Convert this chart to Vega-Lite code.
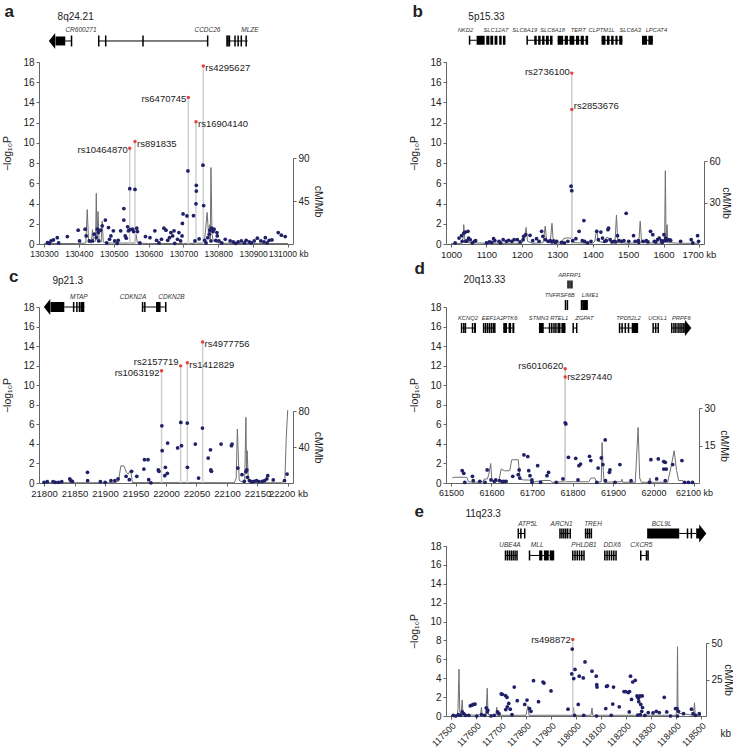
{
"$schema": "https://vega.github.io/schema/vega-lite/v6.json",
"padding": {"left": 2, "top": 3, "right": 0, "bottom": 0},
"background": "white",
"config": {
 "view": {"stroke": null},
 "font": "Liberation Sans",
 "axis": {"grid": false, "labelColor": "#222", "titleColor": "#222", "domainColor": "#666", "tickColor": "#666", "tickSize": 3, "labelFontSize": 10, "titleFontSize": 10.5, "titleFontWeight": "normal", "labelPadding": 2},
 "text": {"color": "#222"}
},
"columns": 2,
"spacing": {"row": 63, "column": 153},
"bounds": "flush",
"datasets": {
"a_pts": [{"pos":130310,"p":0.13},{"pos":130315,"p":0.05},{"pos":130320,"p":0.3},{"pos":130327,"p":0.4},{"pos":130338,"p":0.63},{"pos":130342,"p":0.1},{"pos":130367,"p":0.73},{"pos":130398,"p":1.37},{"pos":130402,"p":0.3},{"pos":130418,"p":1.47},{"pos":130421,"p":0.8},{"pos":130430,"p":0.3},{"pos":130439,"p":0.3},{"pos":130444,"p":0.97},{"pos":130450,"p":0.63},{"pos":130453,"p":1.47},{"pos":130456,"p":1.13},{"pos":130457,"p":0.3},{"pos":130462,"p":1.37},{"pos":130467,"p":1.8},{"pos":130476,"p":2.37},{"pos":130480,"p":0.1},{"pos":130485,"p":1.63},{"pos":130488,"p":0.47},{"pos":130492,"p":0.8},{"pos":130499,"p":1.3},{"pos":130503,"p":0.3},{"pos":130510,"p":0.05},{"pos":130513,"p":0.37},{"pos":130520,"p":1.3},{"pos":130529,"p":3.5},{"pos":130529,"p":2.37},{"pos":130533,"p":0.8},{"pos":130536,"p":0.57},{"pos":130540,"p":1.7},{"pos":130542,"p":1.3},{"pos":130547,"p":1.43},{"pos":130546,"p":5.47},{"pos":130554,"p":1.47},{"pos":130557,"p":1.23},{"pos":130561,"p":5.4},{"pos":130566,"p":1.57},{"pos":130568,"p":1.23},{"pos":130575,"p":0.1},{"pos":130591,"p":0.73},{"pos":130604,"p":0.63},{"pos":130618,"p":1.3},{"pos":130623,"p":0.37},{"pos":130630,"p":0.1},{"pos":130637,"p":0.47},{"pos":130644,"p":1.57},{"pos":130650,"p":1.37},{"pos":130655,"p":0.37},{"pos":130660,"p":0.63},{"pos":130664,"p":1.13},{"pos":130669,"p":0.8},{"pos":130673,"p":1.3},{"pos":130675,"p":0.05},{"pos":130683,"p":0.47},{"pos":130687,"p":1.13},{"pos":130692,"p":0.3},{"pos":130696,"p":0.8},{"pos":130697,"p":2.03},{"pos":130699,"p":2.97},{"pos":130710,"p":2.77},{"pos":130713,"p":7.23},{"pos":130729,"p":2.8},{"pos":130733,"p":0.3},{"pos":130736,"p":3.97},{"pos":130737,"p":5.8},{"pos":130737,"p":5.23},{"pos":130745,"p":0.5},{"pos":130756,"p":7.8},{"pos":130758,"p":3.8},{"pos":130761,"p":0.37},{"pos":130765,"p":0.1},{"pos":130770,"p":0.63},{"pos":130774,"p":0.97},{"pos":130776,"p":1.37},{"pos":130779,"p":0.3},{"pos":130781,"p":1.57},{"pos":130785,"p":1.23},{"pos":130788,"p":1.47},{"pos":130793,"p":0.37},{"pos":130796,"p":1.13},{"pos":130797,"p":0.8},{"pos":130802,"p":0.3},{"pos":130810,"p":0.1},{"pos":130820,"p":0.47},{"pos":130834,"p":0.3},{"pos":130843,"p":0.2},{"pos":130850,"p":0.05},{"pos":130857,"p":0.2},{"pos":130866,"p":0.3},{"pos":130875,"p":0.1},{"pos":130880,"p":0.37},{"pos":130889,"p":0.2},{"pos":130895,"p":0.1},{"pos":130903,"p":0.3},{"pos":130912,"p":0.57},{"pos":130922,"p":0.3},{"pos":130931,"p":0.2},{"pos":130935,"p":0.63},{"pos":130940,"p":0.1},{"pos":130946,"p":0.37},{"pos":130954,"p":0.4},{"pos":130972,"p":1.13},{"pos":130981,"p":0.87},{"pos":130992,"p":0.73}],
"a_top": [{"pos":130546,"p":9.47,"snp":"rs10464870"},{"pos":130561,"p":10.13,"snp":"rs891835"},{"pos":130714,"p":14.5,"snp":"rs6470745"},{"pos":130736,"p":12.1,"snp":"rs16904140"},{"pos":130757,"p":17.6,"snp":"rs4295627"}],
"a_rec": [{"pos":130300,"rate":0.5},{"pos":130400,"rate":0.5},{"pos":130420,"rate":1},{"pos":130424,"rate":36},{"pos":130428,"rate":2},{"pos":130436,"rate":1},{"pos":130439,"rate":15},{"pos":130442,"rate":2},{"pos":130448,"rate":3},{"pos":130450,"rate":53},{"pos":130452,"rate":5},{"pos":130455,"rate":34},{"pos":130458,"rate":4},{"pos":130464,"rate":2},{"pos":130467,"rate":24},{"pos":130470,"rate":2},{"pos":130480,"rate":1},{"pos":130500,"rate":1},{"pos":130560,"rate":1},{"pos":130564,"rate":10},{"pos":130568,"rate":1},{"pos":130600,"rate":0.5},{"pos":130700,"rate":0.5},{"pos":130760,"rate":1},{"pos":130768,"rate":33},{"pos":130772,"rate":10},{"pos":130775,"rate":20},{"pos":130777,"rate":5},{"pos":130779,"rate":80},{"pos":130782,"rate":10},{"pos":130786,"rate":3},{"pos":130800,"rate":1},{"pos":130850,"rate":0.5},{"pos":131000,"rate":0.5}],
"a_gene": [{"k":"arr","pos":130323},{"k":"blk","pos":130333,"end":130361},{"k":"int","pos":130361,"end":130379},{"k":"bar","pos":130379},{"k":"int","pos":130457,"end":130769.5},{"k":"bar","pos":130457},{"k":"bar","pos":130477},{"k":"bar","pos":130584},{"k":"bar","pos":130769.5},{"k":"int","pos":130825,"end":130884},{"k":"bar","pos":130825},{"k":"bar","pos":130828},{"k":"bar","pos":130832},{"k":"bar","pos":130848},{"k":"bar","pos":130857},{"k":"bar","pos":130866},{"k":"bar","pos":130880},{"k":"lab","pos":130406,"n":"CR600271"},{"k":"lab","pos":130769,"n":"CCDC26"},{"k":"lab","pos":130891,"n":"MLZE"}],
"a_tag": [{"pos":130187,"lbl":"a"},{"pos":130339,"lbl":"8q24.21"}],
"b_pts": [{"pos":1011.7,"p":0.1},{"pos":1022.6,"p":0.59},{"pos":1029.8,"p":0.82},{"pos":1036.1,"p":1.08},{"pos":1040.6,"p":1.18},{"pos":1045.2,"p":0.33},{"pos":1047.9,"p":1.25},{"pos":1049.7,"p":0.59},{"pos":1054.2,"p":0.43},{"pos":1041.5,"p":0.27},{"pos":1031.6,"p":0.27},{"pos":1060,"p":0.1},{"pos":1066,"p":0.27},{"pos":1069.6,"p":0.33},{"pos":1100,"p":0.1},{"pos":1108.4,"p":0.2},{"pos":1115,"p":0.15},{"pos":1120.2,"p":0.53},{"pos":1123.8,"p":0.33},{"pos":1135.6,"p":0.27},{"pos":1140,"p":0.1},{"pos":1147.3,"p":0.43},{"pos":1156.4,"p":0.27},{"pos":1162.7,"p":0.36},{"pos":1171.7,"p":0.27},{"pos":1178,"p":0.43},{"pos":1187.1,"p":0.43},{"pos":1195,"p":0.2},{"pos":1203.4,"p":0.43},{"pos":1205.2,"p":0.76},{"pos":1210.6,"p":0.92},{"pos":1223.2,"p":0.86},{"pos":1230.5,"p":0.33},{"pos":1241.3,"p":0.53},{"pos":1248.6,"p":0.27},{"pos":1255.8,"p":1.25},{"pos":1259.4,"p":0.76},{"pos":1266.6,"p":0.43},{"pos":1273.9,"p":0.27},{"pos":1280.2,"p":0.33},{"pos":1284.7,"p":0.2},{"pos":1290,"p":0.3},{"pos":1293.8,"p":0.17},{"pos":1298.3,"p":0.27},{"pos":1311.8,"p":0.17},{"pos":1320,"p":0.1},{"pos":1329.9,"p":0.27},{"pos":1339,"p":5.72},{"pos":1340.8,"p":5.27},{"pos":1343.5,"p":0.33},{"pos":1352.5,"p":0.53},{"pos":1361.6,"p":1.25},{"pos":1370.6,"p":0.33},{"pos":1375.1,"p":2.32},{"pos":1377,"p":0.27},{"pos":1385,"p":0.1},{"pos":1395,"p":0.27},{"pos":1411.3,"p":1.25},{"pos":1415.8,"p":0.43},{"pos":1423,"p":1.18},{"pos":1427.6,"p":0.59},{"pos":1433.9,"p":0.27},{"pos":1438.4,"p":0.33},{"pos":1443,"p":1.41},{"pos":1444.7,"p":1.57},{"pos":1449.2,"p":0.43},{"pos":1454.7,"p":0.2},{"pos":1461,"p":0.27},{"pos":1465,"p":0.2},{"pos":1470,"p":0.82},{"pos":1474.6,"p":0.33},{"pos":1481.8,"p":0.27},{"pos":1488.1,"p":0.33},{"pos":1494.4,"p":3.04},{"pos":1501.7,"p":0.27},{"pos":1515.2,"p":0.82},{"pos":1519.8,"p":0.27},{"pos":1528.8,"p":0.33},{"pos":1530,"p":0.15},{"pos":1542.4,"p":0.27},{"pos":1551.4,"p":0.33},{"pos":1556,"p":0.2},{"pos":1563.2,"p":1.25},{"pos":1569.5,"p":0.92},{"pos":1574,"p":0.27},{"pos":1578,"p":0.2},{"pos":1583,"p":0.43},{"pos":1587.6,"p":0.59},{"pos":1593.9,"p":0.33},{"pos":1596,"p":0.15},{"pos":1601.1,"p":0.92},{"pos":1602.9,"p":0.33},{"pos":1605.6,"p":0.59},{"pos":1608.4,"p":0.33},{"pos":1612,"p":0.43},{"pos":1617.4,"p":0.4},{"pos":1620,"p":0.35},{"pos":1648.1,"p":0.27},{"pos":1678,"p":0.43},{"pos":1682.5,"p":0.1},{"pos":1696,"p":0.82},{"pos":1698.8,"p":0.27}],
"b_top": [{"pos":1341,"p":16.9,"snp":"rs2736100"},{"pos":1341,"p":13.3,"snp":"rs2853676"}],
"b_rec": [{"pos":1000,"rate":0.3},{"pos":1030,"rate":0.5},{"pos":1034,"rate":4},{"pos":1036,"rate":14},{"pos":1039,"rate":3},{"pos":1045,"rate":1},{"pos":1100,"rate":0.5},{"pos":1200,"rate":0.5},{"pos":1208,"rate":4},{"pos":1212,"rate":12},{"pos":1216,"rate":2},{"pos":1230,"rate":0.5},{"pos":1260,"rate":1},{"pos":1266,"rate":13},{"pos":1270,"rate":2},{"pos":1280,"rate":1},{"pos":1285,"rate":15},{"pos":1289,"rate":1},{"pos":1300,"rate":0.5},{"pos":1312,"rate":1},{"pos":1318,"rate":4},{"pos":1330,"rate":4.5},{"pos":1340,"rate":4},{"pos":1346,"rate":1},{"pos":1400,"rate":0.5},{"pos":1406,"rate":2},{"pos":1411,"rate":10.4},{"pos":1416,"rate":2},{"pos":1430,"rate":1},{"pos":1440,"rate":5},{"pos":1446,"rate":4},{"pos":1450,"rate":1},{"pos":1463,"rate":1},{"pos":1467,"rate":21},{"pos":1471,"rate":1},{"pos":1500,"rate":0.5},{"pos":1530,"rate":1},{"pos":1534,"rate":16.5},{"pos":1538,"rate":1},{"pos":1600,"rate":0.5},{"pos":1603,"rate":3},{"pos":1605,"rate":53},{"pos":1607,"rate":5},{"pos":1610,"rate":14},{"pos":1612,"rate":1},{"pos":1650,"rate":0.5},{"pos":1700,"rate":0.5}],
"b_gene": [{"k":"int","pos":1052.4,"end":1072.3},{"k":"int","pos":1215,"end":1286.6},{"k":"int","pos":1301,"end":1387},{"k":"int","pos":1425,"end":1483.8},{"k":"int","pos":1539,"end":1569.7},{"k":"bar","pos":1052.4},{"k":"bar","pos":1215},{"k":"blk","pos":1072.3,"end":1095},{"k":"blk","pos":1099.5,"end":1108.5},{"k":"blk","pos":1111,"end":1119},{"k":"blk","pos":1123,"end":1131},{"k":"blk","pos":1136,"end":1143},{"k":"blk","pos":1146.5,"end":1153.7},{"k":"blk","pos":1235,"end":1242},{"k":"blk","pos":1246,"end":1253},{"k":"blk","pos":1257,"end":1264},{"k":"blk","pos":1268,"end":1276},{"k":"blk","pos":1279.4,"end":1286.6},{"k":"blk","pos":1301,"end":1316.5},{"k":"blk","pos":1321,"end":1330},{"k":"blk","pos":1334.6,"end":1348},{"k":"blk","pos":1352.7,"end":1361.7},{"k":"blk","pos":1366,"end":1375},{"k":"blk","pos":1379.8,"end":1387},{"k":"blk","pos":1425,"end":1436},{"k":"blk","pos":1440,"end":1447.6},{"k":"blk","pos":1452,"end":1459},{"k":"blk","pos":1464,"end":1470},{"k":"blk","pos":1474.7,"end":1483.8},{"k":"blk","pos":1539,"end":1553.4},{"k":"blk","pos":1557,"end":1569.7},{"k":"lab","pos":1040.7,"n":"NKD2"},{"k":"lab","pos":1126.6,"n":"SLC12A7"},{"k":"lab","pos":1208,"n":"SLC6A19"},{"k":"lab","pos":1286.6,"n":"SLC6A18"},{"k":"lab","pos":1359,"n":"TERT"},{"k":"lab","pos":1425,"n":"CLPTM1L"},{"k":"lab","pos":1506,"n":"SLC6A3"},{"k":"lab","pos":1579.7,"n":"LPCAT4"}],
"b_tag": [{"pos":891,"lbl":"b"},{"pos":1049,"lbl":"5p15.33"}],
"c_pts": [{"pos":21800.1,"p":0.07},{"pos":21805.4,"p":0.14},{"pos":21814.9,"p":0.14},{"pos":21818.5,"p":0.07},{"pos":21823.8,"p":0.07},{"pos":21829.1,"p":0.14},{"pos":21842.3,"p":0.41},{"pos":21843.9,"p":0.24},{"pos":21846.5,"p":0.17},{"pos":21871.3,"p":1.09},{"pos":21871.5,"p":0.24},{"pos":21892.4,"p":0.14},{"pos":21900.3,"p":0.07},{"pos":21909.8,"p":0.24},{"pos":21916.2,"p":0.24},{"pos":21921.4,"p":0.41},{"pos":21934.6,"p":0.68},{"pos":21939.9,"p":0.34},{"pos":21943.6,"p":1.19},{"pos":21952.1,"p":0.68},{"pos":21963.7,"p":1.43},{"pos":21964.7,"p":2.38},{"pos":21970.5,"p":2.38},{"pos":21971.6,"p":0.34},{"pos":21975.3,"p":0.02},{"pos":21987.4,"p":1.33},{"pos":21988.5,"p":1.19},{"pos":21993.2,"p":5.85},{"pos":21993.7,"p":3.3},{"pos":21998,"p":0.75},{"pos":21999,"p":1.6},{"pos":22002.2,"p":0.99},{"pos":22002.7,"p":4.09},{"pos":22019.1,"p":3.58},{"pos":22024.3,"p":6.2},{"pos":22025.4,"p":3.82},{"pos":22034.9,"p":6.13},{"pos":22035.1,"p":1.6},{"pos":22048.1,"p":3.98},{"pos":22053.4,"p":0.51},{"pos":22059.7,"p":5.62},{"pos":22069.2,"p":2.55},{"pos":22072.9,"p":3.4},{"pos":22074.5,"p":1.19},{"pos":22073.5,"p":1.33},{"pos":22090.3,"p":3.98},{"pos":22107.2,"p":3.82},{"pos":22108.3,"p":3.98},{"pos":22117.8,"p":1.53},{"pos":22124.6,"p":0.85},{"pos":22128.3,"p":0.17},{"pos":22131,"p":1.16},{"pos":22132.5,"p":1.33},{"pos":22133.6,"p":0.58},{"pos":22136.8,"p":0.24},{"pos":22140.4,"p":0.14},{"pos":22144.1,"p":0.17},{"pos":22148.4,"p":0.24},{"pos":22152.6,"p":0.14},{"pos":22157.9,"p":0.17},{"pos":22161.6,"p":0.24},{"pos":22165.3,"p":0.41},{"pos":22166.8,"p":0.75},{"pos":22175.8,"p":0.31},{"pos":22194.3,"p":0.24},{"pos":22198.5,"p":0.92}],
"c_top": [{"pos":21992.7,"p":11.47,"snp":"rs1063192"},{"pos":22024,"p":11.98,"snp":"rs2157719"},{"pos":22035,"p":12.3,"snp":"rs1412829"},{"pos":22060,"p":14.43,"snp":"rs4977756"}],
"c_rec": [{"pos":21800,"rate":0.3},{"pos":21915,"rate":0.3},{"pos":21922,"rate":2},{"pos":21926,"rate":19},{"pos":21931,"rate":19},{"pos":21935,"rate":12},{"pos":21938,"rate":10},{"pos":21942,"rate":14},{"pos":21945,"rate":0.5},{"pos":22112,"rate":0.3},{"pos":22115,"rate":5},{"pos":22117,"rate":60},{"pos":22120,"rate":3},{"pos":22125,"rate":1},{"pos":22129,"rate":2},{"pos":22131,"rate":73},{"pos":22132,"rate":10},{"pos":22133,"rate":36},{"pos":22135,"rate":2},{"pos":22140,"rate":0.3},{"pos":22190,"rate":0.3},{"pos":22195,"rate":5},{"pos":22197,"rate":48},{"pos":22199.5,"rate":81}],
"c_gene": [{"k":"arr","pos":21805},{"k":"blk","pos":21810.7,"end":21833.3},{"k":"int","pos":21833.3,"end":21866},{"k":"bar","pos":21848.6},{"k":"bar","pos":21853.9},{"k":"bar","pos":21858.1},{"k":"blk","pos":21859.7,"end":21866.1},{"k":"int","pos":21961.6,"end":21999.6},{"k":"bar","pos":21961.6},{"k":"bar","pos":21965.3},{"k":"blk","pos":21983.7,"end":21991.1},{"k":"bar","pos":21999.6},{"k":"lab","pos":21857,"n":"MTAP"},{"k":"lab","pos":21946,"n":"CDKN2A"},{"k":"lab","pos":22009,"n":"CDKN2B"}],
"c_tag": [{"pos":21742.5,"lbl":"c"},{"pos":21813.8,"lbl":"9p21.3"}],
"d_pts": [{"pos":61527.7,"p":1.26},{"pos":61531.6,"p":0.99},{"pos":61534,"p":0.07},{"pos":61552.9,"p":0.68},{"pos":61555,"p":0.24},{"pos":61571.1,"p":0.17},{"pos":61584,"p":0.07},{"pos":61589.3,"p":1.33},{"pos":61598.8,"p":0.31},{"pos":61607,"p":0.17},{"pos":61610.6,"p":0.31},{"pos":61620,"p":0.24},{"pos":61626.4,"p":0.13},{"pos":61630.3,"p":0.17},{"pos":61636,"p":0.17},{"pos":61652.5,"p":0.68},{"pos":61665.9,"p":0.85},{"pos":61668.3,"p":1.33},{"pos":61669.8,"p":0.51},{"pos":61680.1,"p":2.87},{"pos":61689.6,"p":2.7},{"pos":61691.9,"p":1.26},{"pos":61695.1,"p":0.75},{"pos":61699.8,"p":0.31},{"pos":61700,"p":0.07},{"pos":61714,"p":1.77},{"pos":61721.2,"p":0.07},{"pos":61737,"p":0.75},{"pos":61740.9,"p":1.09},{"pos":61760,"p":0.07},{"pos":61776.4,"p":0.41},{"pos":61782,"p":6.15},{"pos":61783.6,"p":6.04},{"pos":61789.9,"p":2.63},{"pos":61808,"p":2.53},{"pos":61813.6,"p":0.31},{"pos":61815.9,"p":1.77},{"pos":61819.9,"p":1.94},{"pos":61842,"p":2.73},{"pos":61845.2,"p":2.29},{"pos":61860,"p":0.07},{"pos":61863.3,"p":1.53},{"pos":61871.2,"p":2.56},{"pos":61875.1,"p":1.88},{"pos":61880.7,"p":4.4},{"pos":61881.5,"p":0.24},{"pos":61891,"p":1.09},{"pos":61892.5,"p":1.33},{"pos":61905,"p":0.07},{"pos":61917,"p":1.88},{"pos":61944.6,"p":0.24},{"pos":61990,"p":0.07},{"pos":61993.6,"p":2.39},{"pos":62007.8,"p":0.41},{"pos":62011.8,"p":2.46},{"pos":62025.2,"p":2.19},{"pos":62029.1,"p":2.12},{"pos":62025.4,"p":1.43},{"pos":62031.5,"p":1.43},{"pos":62029,"p":0.24},{"pos":62047.3,"p":1.88},{"pos":62070.2,"p":2.29},{"pos":62076.5,"p":0.07},{"pos":62086,"p":0.07},{"pos":62096.3,"p":0.07}],
"d_top": [{"pos":61782,"p":11.68,"snp":"rs6010620"},{"pos":61782,"p":10.83,"snp":"rs2297440"}],
"d_rec": [{"pos":61503,"rate":2.0},{"pos":61508,"rate":2.3},{"pos":61539,"rate":2.3},{"pos":61543,"rate":0.5},{"pos":61560,"rate":0.3},{"pos":61579,"rate":0.5},{"pos":61582,"rate":1.6},{"pos":61590,"rate":1.6},{"pos":61594,"rate":4},{"pos":61598,"rate":7.8},{"pos":61601,"rate":1},{"pos":61605,"rate":0.5},{"pos":61618,"rate":0.8},{"pos":61624,"rate":5.6},{"pos":61632,"rate":4.9},{"pos":61645,"rate":4.9},{"pos":61650,"rate":9.3},{"pos":61666,"rate":9.3},{"pos":61671,"rate":1.5},{"pos":61680,"rate":1.2},{"pos":61693,"rate":1.2},{"pos":61700,"rate":0.3},{"pos":61725,"rate":1},{"pos":61745,"rate":1},{"pos":61750,"rate":0.3},{"pos":61780,"rate":0.5},{"pos":61840,"rate":0.5},{"pos":61846,"rate":2},{"pos":61855,"rate":2},{"pos":61860,"rate":0.3},{"pos":61871,"rate":0.5},{"pos":61873,"rate":16.2},{"pos":61876,"rate":5},{"pos":61878,"rate":0.3},{"pos":61920,"rate":0.5},{"pos":61922,"rate":1.5},{"pos":61924,"rate":0.3},{"pos":61955,"rate":0.3},{"pos":61962,"rate":22.2},{"pos":61966,"rate":2},{"pos":61970,"rate":0.3},{"pos":61988,"rate":0.3},{"pos":61991,"rate":2},{"pos":61994,"rate":0.3},{"pos":62035,"rate":0.3},{"pos":62044,"rate":7},{"pos":62051,"rate":12.9},{"pos":62057,"rate":5},{"pos":62062,"rate":1},{"pos":62072,"rate":1},{"pos":62075,"rate":0.3},{"pos":62100,"rate":0.3}],
"d_gene": [{"k":"int","t":3,"pos":61526,"end":61562},{"k":"int","t":3,"pos":61580.6,"end":61608.2},{"k":"int","t":3,"pos":61629,"end":61656.4},{"k":"int","t":3,"pos":61717.2,"end":61782.7},{"k":"int","t":3,"pos":61801.7,"end":61810.4},{"k":"int","t":3,"pos":61916.2,"end":61962},{"k":"int","t":3,"pos":61999.1,"end":62011.7},{"k":"int","t":3,"pos":62045,"end":62082.8},
{"k":"bar","t":3,"pos":61526.1},{"k":"bar","t":3,"pos":61531.6},{"k":"bar","t":3,"pos":61535.6},{"k":"bar","t":3,"pos":61580.6},{"k":"bar","t":3,"pos":61585.3},{"k":"bar","t":3,"pos":61590.1},{"k":"bar","t":3,"pos":61594.8},{"k":"bar","t":3,"pos":61599.5},{"k":"bar","t":3,"pos":61604.3},{"k":"bar","t":3,"pos":61608.2},{"k":"bar","t":3,"pos":61743.3},{"k":"bar","t":3,"pos":61748.8},{"k":"bar","t":3,"pos":61754.3},{"k":"bar","t":3,"pos":61759},{"k":"bar","t":3,"pos":61764.6},{"k":"bar","t":3,"pos":61768.5},{"k":"bar","t":3,"pos":61801.7},{"k":"bar","t":3,"pos":61810.4},{"k":"bar","t":3,"pos":61916.2},{"k":"bar","t":3,"pos":61922.5},{"k":"bar","t":3,"pos":61930.4},{"k":"bar","t":3,"pos":61938.3},{"k":"bar","t":3,"pos":61999.1},{"k":"bar","t":3,"pos":62005.4},{"k":"bar","t":3,"pos":62011.7},{"k":"bar","t":3,"pos":62045},{"k":"bar","t":3,"pos":62050.5},{"k":"bar","t":3,"pos":62055.2},{"k":"bar","t":3,"pos":62060.7},{"k":"bar","t":3,"pos":62065.5},{"k":"bar","t":3,"pos":62070.2},{"k":"bar","t":3,"pos":62074.9},
{"k":"blk","t":3,"pos":61551.4,"end":61555},{"k":"blk","t":3,"pos":61557,"end":61561.6},{"k":"blk","t":3,"pos":61629,"end":61638.3},{"k":"blk","t":3,"pos":61642.2,"end":61648.5},{"k":"blk","t":3,"pos":61651.6,"end":61656.4},{"k":"blk","t":3,"pos":61717.2,"end":61729},{"k":"blk","t":3,"pos":61772.5,"end":61782.7},{"k":"blk","t":3,"pos":61946.2,"end":61962},{"k":"blk","t":3,"pos":62076.5,"end":62082.8},
{"k":"arr","t":3,"pos":62085.6},
{"k":"lab","t":3,"pos":61541.9,"n":"KCNQ2"},{"k":"lab","t":3,"pos":61602.7,"n":"EEF1A2"},{"k":"lab","t":3,"pos":61646,"n":"PTK6"},{"k":"lab","t":3,"pos":61716.4,"n":"STMN3"},{"k":"lab","t":3,"pos":61767,"n":"RTEL1"},{"k":"lab","t":3,"pos":61829.3,"n":"ZGPAT"},{"k":"lab","t":3,"pos":61938.3,"n":"TPD52L2"},{"k":"lab","t":3,"pos":62010,"n":"UCKL1"},{"k":"lab","t":3,"pos":62068.6,"n":"PRPF6"},
{"k":"bar","t":2,"pos":61782.7},{"k":"bar","t":2,"pos":61787.5},{"k":"bar","t":2,"pos":61822.2},{"k":"blk","t":2,"pos":61823.8,"end":61838},{"k":"lab","t":2,"pos":61768.5,"n":"TNFRSF6B"},{"k":"lab","t":2,"pos":61843.5,"n":"LIME1"},
{"k":"bar","t":1,"pos":61789},{"k":"bar","t":1,"pos":61793.8},{"k":"bar","t":1,"pos":61798.5},{"k":"lab","t":1,"pos":61793,"n":"ARFRP1"}],
"d_tag": [{"pos":61410,"lbl":"d"},{"pos":61531,"lbl":"20q13.33"}],
"e_pts": [{"pos":117509,"p":0.07},{"pos":117519,"p":0},{"pos":117529,"p":0.14},{"pos":117538,"p":0.07},{"pos":117545,"p":0.43},{"pos":117551,"p":0.25},{"pos":117558,"p":0.07},{"pos":117571,"p":0.07},{"pos":117577,"p":1.08},{"pos":117583,"p":1.15},{"pos":117590,"p":1.22},{"pos":117596,"p":1.26},{"pos":117603,"p":0},{"pos":117622,"p":0.14},{"pos":117635,"p":0.07},{"pos":117641,"p":0.86},{"pos":117645,"p":0.43},{"pos":117647,"p":0.61},{"pos":117660,"p":0},{"pos":117673,"p":0.07},{"pos":117686,"p":0.43},{"pos":117692,"p":0.25},{"pos":117701,"p":2.34},{"pos":117705,"p":2.3},{"pos":117718,"p":2.16},{"pos":117719,"p":0.68},{"pos":117724,"p":1.98},{"pos":117725,"p":0.97},{"pos":117731,"p":1.33},{"pos":117737,"p":0.72},{"pos":117744,"p":0.14},{"pos":117753,"p":3.06},{"pos":117765,"p":1.62},{"pos":117795,"p":1.22},{"pos":117804,"p":1.69},{"pos":117814,"p":0.79},{"pos":117820,"p":0.5},{"pos":117830,"p":3.74},{"pos":117850,"p":1.51},{"pos":117868,"p":3.6},{"pos":117872,"p":3.49},{"pos":117900,"p":2.66},{"pos":117968,"p":0.72},{"pos":117983,"p":4.46},{"pos":117985,"p":7.09},{"pos":117991,"p":3.96},{"pos":117994,"p":0.07},{"pos":117996,"p":4.93},{"pos":118009,"p":1.22},{"pos":118013,"p":4.21},{"pos":118029,"p":4.03},{"pos":118031,"p":0.07},{"pos":118036,"p":5.72},{"pos":118064,"p":4.75},{"pos":118081,"p":4.21},{"pos":118082,"p":0},{"pos":118083,"p":3.31},{"pos":118084,"p":3.06},{"pos":118119,"p":0.79},{"pos":118122,"p":3.13},{"pos":118126,"p":3.2},{"pos":118141,"p":0.07},{"pos":118147,"p":1.26},{"pos":118150,"p":3.06},{"pos":118173,"p":0.97},{"pos":118192,"p":2.59},{"pos":118199,"p":2.59},{"pos":118209,"p":2.48},{"pos":118213,"p":0.43},{"pos":118214,"p":2.59},{"pos":118218,"p":4.21},{"pos":118222,"p":1.76},{"pos":118227,"p":3.6},{"pos":118237,"p":3.78},{"pos":118244,"p":2.12},{"pos":118247,"p":0.1},{"pos":118248,"p":1.98},{"pos":118250,"p":1.87},{"pos":118251,"p":1.51},{"pos":118256,"p":2.12},{"pos":118257,"p":0.15},{"pos":118259,"p":1.22},{"pos":118263,"p":0.5},{"pos":118265,"p":2.12},{"pos":118266,"p":0.9},{"pos":118276,"p":0.07},{"pos":118289,"p":0.36},{"pos":118308,"p":0.32},{"pos":118321,"p":0.5},{"pos":118333,"p":0.36},{"pos":118353,"p":1.98},{"pos":118363,"p":0.43},{"pos":118378,"p":0},{"pos":118398,"p":0.79},{"pos":118404,"p":0.79},{"pos":118406,"p":0},{"pos":118410,"p":0.5},{"pos":118430,"p":0.25},{"pos":118462,"p":0.72},{"pos":118468,"p":0.25},{"pos":118478,"p":0.07},{"pos":118493,"p":0.25}],
"e_top": [{"pos":117987,"p":8.1,"snp":"rs498872"}],
"e_rec": [{"pos":117500,"rate":0.3},{"pos":117525,"rate":0.5},{"pos":117528,"rate":5},{"pos":117532,"rate":32},{"pos":117535,"rate":3},{"pos":117540,"rate":1},{"pos":117545,"rate":11},{"pos":117548,"rate":1},{"pos":117600,"rate":0.5},{"pos":117618,"rate":1},{"pos":117622,"rate":6},{"pos":117625,"rate":1},{"pos":117640,"rate":1},{"pos":117645,"rate":19},{"pos":117648,"rate":1},{"pos":117680,"rate":0.5},{"pos":117683,"rate":6},{"pos":117686,"rate":0.5},{"pos":117800,"rate":0.5},{"pos":117805,"rate":5},{"pos":117808,"rate":7},{"pos":117812,"rate":0.5},{"pos":117985,"rate":0.5},{"pos":117990,"rate":6},{"pos":117993,"rate":0.5},{"pos":118060,"rate":0.5},{"pos":118064,"rate":5.5},{"pos":118067,"rate":0.5},{"pos":118400,"rate":0.5},{"pos":118404,"rate":5},{"pos":118406,"rate":47.5},{"pos":118408,"rate":2},{"pos":118470,"rate":0.5},{"pos":118474,"rate":9},{"pos":118477,"rate":0.5},{"pos":118500,"rate":0.3}],
"e_gene": [{"k":"int","t":1,"pos":117769.2,"end":117794.8},{"k":"int","t":1,"pos":117935.9,"end":117976.9},{"k":"int","t":1,"pos":118038.4,"end":118061.5},{"k":"int","t":1,"pos":118412.8,"end":118480.7},
{"k":"bar","t":1,"pos":117769.2},{"k":"bar","t":1,"pos":117779.5},{"k":"bar","t":1,"pos":117794.8},{"k":"bar","t":1,"pos":117935.9},{"k":"bar","t":1,"pos":117943.6},{"k":"bar","t":1,"pos":117951.3},{"k":"bar","t":1,"pos":117959},{"k":"bar","t":1,"pos":117966.6},{"k":"bar","t":1,"pos":117976.9},{"k":"bar","t":1,"pos":118038.4},{"k":"bar","t":1,"pos":118046.1},{"k":"bar","t":1,"pos":118053.8},{"k":"bar","t":1,"pos":118061.5},{"k":"bar","t":1,"pos":118446.1},{"k":"bar","t":1,"pos":118461.5},
{"k":"blk","t":1,"pos":118284.6,"end":118412.8},{"k":"blk","t":1,"pos":118480.7,"end":118500},{"k":"arr","t":1,"pos":118507},
{"k":"lab","t":1,"pos":117807.7,"n":"ATP5L"},{"k":"lab","t":1,"pos":117942.3,"n":"ARCN1"},{"k":"lab","t":1,"pos":118067.9,"n":"TREH"},{"k":"lab","t":1,"pos":118342.3,"n":"BCL9L"},
{"k":"int","t":2,"pos":117717.9,"end":117764.1},{"k":"int","t":2,"pos":117814,"end":117912.8},{"k":"int","t":2,"pos":117987.1,"end":118032},{"k":"int","t":2,"pos":118115.3,"end":118160.2},{"k":"int","t":2,"pos":118259,"end":118288.4},
{"k":"bar","t":2,"pos":117717.9},{"k":"bar","t":2,"pos":117725.6},{"k":"bar","t":2,"pos":117733.3},{"k":"bar","t":2,"pos":117741},{"k":"bar","t":2,"pos":117748.7},{"k":"bar","t":2,"pos":117756.4},{"k":"bar","t":2,"pos":117764.1},{"k":"bar","t":2,"pos":117814},{"k":"bar","t":2,"pos":117987.1},{"k":"bar","t":2,"pos":117996.1},{"k":"bar","t":2,"pos":118005.1},{"k":"bar","t":2,"pos":118014},{"k":"bar","t":2,"pos":118023},{"k":"bar","t":2,"pos":118032},{"k":"bar","t":2,"pos":118115.3},{"k":"bar","t":2,"pos":118124.3},{"k":"bar","t":2,"pos":118133.3},{"k":"bar","t":2,"pos":118142.3},{"k":"bar","t":2,"pos":118151.2},{"k":"bar","t":2,"pos":118160.2},{"k":"bar","t":2,"pos":118259},{"k":"bar","t":2,"pos":118282},{"k":"bar","t":2,"pos":118288.4},
{"k":"blk","t":2,"pos":117852.5,"end":117865.4},{"k":"blk","t":2,"pos":117871.8,"end":117891},{"k":"blk","t":2,"pos":117894.9,"end":117912.8},
{"k":"lab","t":2,"pos":117735.9,"n":"UBE4A"},{"k":"lab","t":2,"pos":117844.8,"n":"MLL"},{"k":"lab","t":2,"pos":118032,"n":"PHLDB1"},{"k":"lab","t":2,"pos":118144.8,"n":"DDX6"},{"k":"lab","t":2,"pos":118261.5,"n":"CXCR5"}],
"e_tag": [{"pos":117354,"lbl":"e"},{"pos":117557.7,"lbl":"11q23.3"}]
},
"concat": [
{
 "width": 254, "height": 182,
 "encoding": {"x": {"field": "pos", "type": "quantitative", "scale": {"domain": [130300, 131000], "nice": false, "zero": false},
   "axis": {"values": [130300,130400,130500,130600,130700,130800,130900,131000], "format": "d", "labelExpr": "datum.value == 131000 ? datum.label + ' kb' : datum.label", "title": null, "labelFontSize": 8.5, "labelOverlap": false, "labelFlush": false}}},
 "layer": [
  {"data": {"name": "a_rec"}, "mark": {"type": "line", "color": "#707070", "strokeWidth": 1},
   "encoding": {"y": {"field": "rate", "type": "quantitative", "scale": {"domain": [0, 90], "range": [182, 96], "nice": false}, "axis": {"orient": "right", "values": [45, 90], "title": "cM/Mb", "titlePadding": 3}}}},
  {"data": {"name": "a_top"}, "mark": {"type": "bar", "size": 1.5, "color": "#cfcfcf"},
   "encoding": {"y": {"field": "p", "type": "quantitative", "stack": null, "scale": {"domain": [0, 18], "nice": false}, "axis": null}}},
  {"data": {"name": "a_gene"}, "transform": [{"filter": "datum.k == 'int'"}], "mark": {"type": "rule", "color": "#000", "strokeWidth": 1},
   "encoding": {"x2": {"field": "end"}, "y": {"datum": 20.08, "type": "quantitative", "scale": {"domain": [0, 18], "nice": false}, "axis": null}}},
  {"data": {"name": "a_gene"}, "transform": [{"filter": "datum.k == 'blk'"}], "mark": {"type": "rule", "color": "#000", "strokeWidth": 9, "strokeCap": "butt"},
   "encoding": {"x2": {"field": "end"}, "y": {"datum": 20.08, "type": "quantitative", "scale": {"domain": [0, 18], "nice": false}, "axis": null}}},
  {"data": {"name": "a_gene"}, "transform": [{"filter": "datum.k == 'bar'"}], "mark": {"type": "point", "shape": "M0,-1L0,1", "filled": false, "strokeWidth": 1.5, "size": 121, "color": "#000", "opacity": 1},
   "encoding": {"y": {"datum": 20.08, "type": "quantitative", "scale": {"domain": [0, 18], "nice": false}, "axis": null}}},
  {"data": {"name": "a_gene"}, "transform": [{"filter": "datum.k == 'arr'"}], "mark": {"type": "point", "shape": "M0.4,-1L-0.4,0L0.4,1Z", "filled": true, "size": 256, "color": "#000", "opacity": 1},
   "encoding": {"y": {"datum": 20.08, "type": "quantitative", "scale": {"domain": [0, 18], "nice": false}, "axis": null}}},
  {"data": {"name": "a_gene"}, "transform": [{"filter": "datum.k == 'lab'"}], "mark": {"type": "text", "fontSize": 6.5, "fontStyle": "italic", "color": "#333"},
   "encoding": {"y": {"datum": 21.17, "type": "quantitative", "scale": {"domain": [0, 18], "nice": false}, "axis": null}, "text": {"field": "n", "type": "nominal"}}},
  {"data": {"name": "a_pts"}, "mark": {"type": "circle", "color": "#1f2066", "size": 14, "opacity": 1},
   "encoding": {"y": {"field": "p", "type": "quantitative", "scale": {"domain": [0, 18], "nice": false}, "axis": {"values": [0,2,4,6,8,10,12,14,16,18], "title": "−log₁₀P", "titlePadding": 10}}}},
  {"data": {"name": "a_top"}, "mark": {"type": "circle", "color": "#e8403a", "size": 12, "opacity": 1},
   "encoding": {"y": {"field": "p", "type": "quantitative", "scale": {"domain": [0, 18], "nice": false}, "axis": null}}},
  {"data": {"name": "a_top"}, "transform": [{"filter": "indexof(['rs10464870','rs6470745'], datum.snp) >= 0"}], "mark": {"type": "text", "align": "right", "dx": -2, "dy": 2, "fontSize": 9.5},
   "encoding": {"y": {"field": "p", "type": "quantitative", "scale": {"domain": [0, 18], "nice": false}, "axis": null}, "text": {"field": "snp", "type": "nominal"}}},
  {"data": {"name": "a_top"}, "transform": [{"filter": "indexof(['rs10464870','rs6470745'], datum.snp) < 0"}], "mark": {"type": "text", "align": "left", "dx": 2, "dy": 2, "fontSize": 9.5},
   "encoding": {"y": {"field": "p", "type": "quantitative", "scale": {"domain": [0, 18], "nice": false}, "axis": null}, "text": {"field": "snp", "type": "nominal"}}},
  {"data": {"name": "a_tag"}, "transform": [{"filter": "datum.lbl == 'a'"}], "mark": {"type": "text", "fontSize": 17, "fontWeight": "bold", "align": "left"},
   "encoding": {"y": {"datum": 22.9, "type": "quantitative", "scale": {"domain": [0, 18], "nice": false}, "axis": null}, "text": {"field": "lbl", "type": "nominal"}}},
  {"data": {"name": "a_tag"}, "transform": [{"filter": "datum.lbl != 'a'"}], "mark": {"type": "text", "fontSize": 10, "align": "left"},
   "encoding": {"y": {"datum": 22.5, "type": "quantitative", "scale": {"domain": [0, 18], "nice": false}, "axis": null}, "text": {"field": "lbl", "type": "nominal"}}}
 ],
 "resolve": {"scale": {"y": "independent"}}
},
{
 "width": 258, "height": 182,
 "encoding": {"x": {"field": "pos", "type": "quantitative", "scale": {"domain": [1000, 1700], "nice": false, "zero": false},
   "axis": {"values": [1000,1100,1200,1300,1400,1500,1600,1700], "format": "d", "labelExpr": "datum.value == 1700 ? datum.label + ' kb' : datum.label", "title": null, "labelFontSize": 9.5, "labelOverlap": false, "labelFlush": false}}},
 "layer": [
  {"data": {"name": "b_rec"}, "mark": {"type": "line", "color": "#707070", "strokeWidth": 1},
   "encoding": {"y": {"field": "rate", "type": "quantitative", "scale": {"domain": [0, 60], "range": [182, 99], "nice": false}, "axis": {"orient": "right", "values": [30, 60], "title": "cM/Mb", "titlePadding": 0}}}},
  {"data": {"name": "b_top"}, "mark": {"type": "bar", "size": 1.5, "color": "#cfcfcf"},
   "encoding": {"y": {"field": "p", "type": "quantitative", "stack": null, "scale": {"domain": [0, 18], "nice": false}, "axis": null}}},
  {"data": {"name": "b_gene"}, "transform": [{"filter": "datum.k == 'int'"}], "mark": {"type": "rule", "color": "#000", "strokeWidth": 1},
   "encoding": {"x2": {"field": "end"}, "y": {"datum": 20.15, "type": "quantitative", "scale": {"domain": [0, 18], "nice": false}, "axis": null}}},
  {"data": {"name": "b_gene"}, "transform": [{"filter": "datum.k == 'blk'"}], "mark": {"type": "rule", "color": "#000", "strokeWidth": 9, "strokeCap": "butt"},
   "encoding": {"x2": {"field": "end"}, "y": {"datum": 20.15, "type": "quantitative", "scale": {"domain": [0, 18], "nice": false}, "axis": null}}},
  {"data": {"name": "b_gene"}, "transform": [{"filter": "datum.k == 'bar'"}], "mark": {"type": "point", "shape": "M0,-1L0,1", "filled": false, "strokeWidth": 1.5, "size": 81, "color": "#000", "opacity": 1},
   "encoding": {"y": {"datum": 20.15, "type": "quantitative", "scale": {"domain": [0, 18], "nice": false}, "axis": null}}},
  {"data": {"name": "b_gene"}, "transform": [{"filter": "datum.k == 'lab'"}], "mark": {"type": "text", "fontSize": 5.8, "fontStyle": "italic", "color": "#333"},
   "encoding": {"y": {"datum": 21.14, "type": "quantitative", "scale": {"domain": [0, 18], "nice": false}, "axis": null}, "text": {"field": "n", "type": "nominal"}}},
  {"data": {"name": "b_pts"}, "mark": {"type": "circle", "color": "#1f2066", "size": 14, "opacity": 1},
   "encoding": {"y": {"field": "p", "type": "quantitative", "scale": {"domain": [0, 18], "nice": false}, "axis": {"values": [0,2,4,6,8,10,12,14,16,18], "title": "−log₁₀P", "titlePadding": 10}}}},
  {"data": {"name": "b_top"}, "mark": {"type": "circle", "color": "#e8403a", "size": 12, "opacity": 1},
   "encoding": {"y": {"field": "p", "type": "quantitative", "scale": {"domain": [0, 18], "nice": false}, "axis": null}}},
  {"data": {"name": "b_top"}, "transform": [{"filter": "datum.snp == 'rs2736100'"}], "mark": {"type": "text", "align": "right", "dx": -2, "dy": -1, "fontSize": 9.5},
   "encoding": {"y": {"field": "p", "type": "quantitative", "scale": {"domain": [0, 18], "nice": false}, "axis": null}, "text": {"field": "snp", "type": "nominal"}}},
  {"data": {"name": "b_top"}, "transform": [{"filter": "datum.snp != 'rs2736100'"}], "mark": {"type": "text", "align": "left", "dx": 2, "dy": -4, "fontSize": 9.5},
   "encoding": {"y": {"field": "p", "type": "quantitative", "scale": {"domain": [0, 18], "nice": false}, "axis": null}, "text": {"field": "snp", "type": "nominal"}}},
  {"data": {"name": "b_tag"}, "transform": [{"filter": "datum.lbl == 'b'"}], "mark": {"type": "text", "fontSize": 17, "fontWeight": "bold", "align": "left"},
   "encoding": {"y": {"datum": 22.9, "type": "quantitative", "scale": {"domain": [0, 18], "nice": false}, "axis": null}, "text": {"field": "lbl", "type": "nominal"}}},
  {"data": {"name": "b_tag"}, "transform": [{"filter": "datum.lbl != 'b'"}], "mark": {"type": "text", "fontSize": 10, "align": "left"},
   "encoding": {"y": {"datum": 22.5, "type": "quantitative", "scale": {"domain": [0, 18], "nice": false}, "axis": null}, "text": {"field": "lbl", "type": "nominal"}}}
 ],
 "resolve": {"scale": {"y": "independent"}}
},
{
 "width": 254, "height": 176,
 "encoding": {"x": {"field": "pos", "type": "quantitative", "scale": {"domain": [21800, 22200], "nice": false, "zero": false},
   "axis": {"values": [21800,21850,21900,21950,22000,22050,22100,22150,22200], "format": "d", "labelExpr": "datum.value == 22200 ? datum.label + ' kb' : datum.label", "title": null, "labelFontSize": 9.5, "labelOverlap": false, "labelFlush": false}}},
 "layer": [
  {"data": {"name": "c_rec"}, "mark": {"type": "line", "color": "#707070", "strokeWidth": 1},
   "encoding": {"y": {"field": "rate", "type": "quantitative", "scale": {"domain": [0, 80], "range": [176, 104], "nice": false}, "axis": {"orient": "right", "values": [40, 80], "title": "cM/Mb", "titlePadding": 3}}}},
  {"data": {"name": "c_top"}, "mark": {"type": "bar", "size": 1.5, "color": "#cfcfcf"},
   "encoding": {"y": {"field": "p", "type": "quantitative", "stack": null, "scale": {"domain": [0, 18], "nice": false}, "axis": null}}},
  {"data": {"name": "c_gene"}, "transform": [{"filter": "datum.k == 'int'"}], "mark": {"type": "rule", "color": "#000", "strokeWidth": 1},
   "encoding": {"x2": {"field": "end"}, "y": {"datum": 18, "type": "quantitative", "scale": {"domain": [0, 18], "nice": false}, "axis": null}}},
  {"data": {"name": "c_gene"}, "transform": [{"filter": "datum.k == 'blk'"}], "mark": {"type": "rule", "color": "#000", "strokeWidth": 10, "strokeCap": "butt"},
   "encoding": {"x2": {"field": "end"}, "y": {"datum": 18, "type": "quantitative", "scale": {"domain": [0, 18], "nice": false}, "axis": null}}},
  {"data": {"name": "c_gene"}, "transform": [{"filter": "datum.k == 'bar'"}], "mark": {"type": "point", "shape": "M0,-1L0,1", "filled": false, "strokeWidth": 1.5, "size": 100, "color": "#000", "opacity": 1},
   "encoding": {"y": {"datum": 18, "type": "quantitative", "scale": {"domain": [0, 18], "nice": false}, "axis": null}}},
  {"data": {"name": "c_gene"}, "transform": [{"filter": "datum.k == 'arr'"}], "mark": {"type": "point", "shape": "M0.4,-1L-0.4,0L0.4,1Z", "filled": true, "size": 256, "color": "#000", "opacity": 1},
   "encoding": {"y": {"datum": 18, "type": "quantitative", "scale": {"domain": [0, 18], "nice": false}, "axis": null}}},
  {"data": {"name": "c_gene"}, "transform": [{"filter": "datum.k == 'lab'"}], "mark": {"type": "text", "fontSize": 6.5, "fontStyle": "italic", "color": "#333"},
   "encoding": {"y": {"datum": 19.05, "type": "quantitative", "scale": {"domain": [0, 18], "nice": false}, "axis": null}, "text": {"field": "n", "type": "nominal"}}},
  {"data": {"name": "c_pts"}, "mark": {"type": "circle", "color": "#1f2066", "size": 14, "opacity": 1},
   "encoding": {"y": {"field": "p", "type": "quantitative", "scale": {"domain": [0, 18], "nice": false}, "axis": {"values": [0,2,4,6,8,10,12,14,16,18], "title": "−log₁₀P", "titlePadding": 10}}}},
  {"data": {"name": "c_top"}, "mark": {"type": "circle", "color": "#e8403a", "size": 12, "opacity": 1},
   "encoding": {"y": {"field": "p", "type": "quantitative", "scale": {"domain": [0, 18], "nice": false}, "axis": null}}},
  {"data": {"name": "c_top"}, "transform": [{"filter": "datum.snp == 'rs1063192'"}], "mark": {"type": "text", "align": "right", "dx": -2, "dy": 2, "fontSize": 9.5},
   "encoding": {"y": {"field": "p", "type": "quantitative", "scale": {"domain": [0, 18], "nice": false}, "axis": null}, "text": {"field": "snp", "type": "nominal"}}},
  {"data": {"name": "c_top"}, "transform": [{"filter": "datum.snp == 'rs2157719'"}], "mark": {"type": "text", "align": "right", "dx": -2, "dy": -4, "fontSize": 9.5},
   "encoding": {"y": {"field": "p", "type": "quantitative", "scale": {"domain": [0, 18], "nice": false}, "axis": null}, "text": {"field": "snp", "type": "nominal"}}},
  {"data": {"name": "c_top"}, "transform": [{"filter": "indexof(['rs1063192','rs2157719'], datum.snp) < 0"}], "mark": {"type": "text", "align": "left", "dx": 2, "dy": 2, "fontSize": 9.5},
   "encoding": {"y": {"field": "p", "type": "quantitative", "scale": {"domain": [0, 18], "nice": false}, "axis": null}, "text": {"field": "snp", "type": "nominal"}}},
  {"data": {"name": "c_tag"}, "transform": [{"filter": "datum.lbl == 'c'"}], "mark": {"type": "text", "fontSize": 17, "fontWeight": "bold", "align": "left"},
   "encoding": {"y": {"datum": 21.06, "type": "quantitative", "scale": {"domain": [0, 18], "nice": false}, "axis": null}, "text": {"field": "lbl", "type": "nominal"}}},
  {"data": {"name": "c_tag"}, "transform": [{"filter": "datum.lbl != 'c'"}], "mark": {"type": "text", "fontSize": 10, "align": "left"},
   "encoding": {"y": {"datum": 20.66, "type": "quantitative", "scale": {"domain": [0, 18], "nice": false}, "axis": null}, "text": {"field": "lbl", "type": "nominal"}}}
 ],
 "resolve": {"scale": {"y": "independent"}}
},
{
 "width": 253, "height": 176,
 "encoding": {"x": {"field": "pos", "type": "quantitative", "scale": {"domain": [61500, 62100], "nice": false, "zero": false},
   "axis": {"values": [61500,61600,61700,61800,61900,62000,62100], "format": "d", "labelExpr": "datum.value == 62100 ? datum.label + ' kb' : datum.label", "title": null, "labelFontSize": 9, "labelOverlap": false, "labelFlush": false}}},
 "layer": [
  {"data": {"name": "d_rec"}, "mark": {"type": "line", "color": "#707070", "strokeWidth": 1},
   "encoding": {"y": {"field": "rate", "type": "quantitative", "scale": {"domain": [0, 30], "range": [176, 101], "nice": false}, "axis": {"orient": "right", "values": [15, 30], "title": "cM/Mb", "titlePadding": 3}}}},
  {"data": {"name": "d_top"}, "mark": {"type": "bar", "size": 1.5, "color": "#cfcfcf"},
   "encoding": {"y": {"field": "p", "type": "quantitative", "stack": null, "scale": {"domain": [0, 18], "nice": false}, "axis": null}}},
  {"data": {"name": "d_gene"}, "transform": [{"filter": "datum.k == 'int' && datum.t == 3"}], "mark": {"type": "rule", "color": "#000", "strokeWidth": 1},
   "encoding": {"x2": {"field": "end"}, "y": {"datum": 15.85, "type": "quantitative", "scale": {"domain": [0, 18], "nice": false}, "axis": null}}},
  {"data": {"name": "d_gene"}, "transform": [{"filter": "datum.k == 'blk' && datum.t == 3"}], "mark": {"type": "rule", "color": "#000", "strokeWidth": 10, "strokeCap": "butt"},
   "encoding": {"x2": {"field": "end"}, "y": {"datum": 15.85, "type": "quantitative", "scale": {"domain": [0, 18], "nice": false}, "axis": null}}},
  {"data": {"name": "d_gene"}, "transform": [{"filter": "datum.k == 'bar' && datum.t == 3"}], "mark": {"type": "point", "shape": "M0,-1L0,1", "filled": false, "strokeWidth": 1.5, "size": 100, "color": "#000", "opacity": 1},
   "encoding": {"y": {"datum": 15.85, "type": "quantitative", "scale": {"domain": [0, 18], "nice": false}, "axis": null}}},
  {"data": {"name": "d_gene"}, "transform": [{"filter": "datum.k == 'arr'"}], "mark": {"type": "point", "shape": "M-0.4,-1L0.4,0L-0.4,1Z", "filled": true, "size": 256, "color": "#000", "opacity": 1},
   "encoding": {"y": {"datum": 15.85, "type": "quantitative", "scale": {"domain": [0, 18], "nice": false}, "axis": null}}},
  {"data": {"name": "d_gene"}, "transform": [{"filter": "datum.k == 'lab' && datum.t == 3"}], "mark": {"type": "text", "fontSize": 5.8, "fontStyle": "italic", "color": "#333"},
   "encoding": {"y": {"datum": 16.87, "type": "quantitative", "scale": {"domain": [0, 18], "nice": false}, "axis": null}, "text": {"field": "n", "type": "nominal"}}},
  {"data": {"name": "d_gene"}, "transform": [{"filter": "datum.k == 'blk' && datum.t == 2"}], "mark": {"type": "rule", "color": "#000", "strokeWidth": 10, "strokeCap": "butt"},
   "encoding": {"x2": {"field": "end"}, "y": {"datum": 18.2, "type": "quantitative", "scale": {"domain": [0, 18], "nice": false}, "axis": null}}},
  {"data": {"name": "d_gene"}, "transform": [{"filter": "datum.k == 'bar' && datum.t == 2"}], "mark": {"type": "point", "shape": "M0,-1L0,1", "filled": false, "strokeWidth": 1.5, "size": 100, "color": "#000", "opacity": 1},
   "encoding": {"y": {"datum": 18.2, "type": "quantitative", "scale": {"domain": [0, 18], "nice": false}, "axis": null}}},
  {"data": {"name": "d_gene"}, "transform": [{"filter": "datum.k == 'lab' && datum.t == 2"}], "mark": {"type": "text", "fontSize": 5.8, "fontStyle": "italic", "color": "#333"},
   "encoding": {"y": {"datum": 19.2, "type": "quantitative", "scale": {"domain": [0, 18], "nice": false}, "axis": null}, "text": {"field": "n", "type": "nominal"}}},
  {"data": {"name": "d_gene"}, "transform": [{"filter": "datum.k == 'bar' && datum.t == 1"}], "mark": {"type": "point", "shape": "M0,-1L0,1", "filled": false, "strokeWidth": 1.5, "size": 64, "color": "#000", "opacity": 1},
   "encoding": {"y": {"datum": 20.3, "type": "quantitative", "scale": {"domain": [0, 18], "nice": false}, "axis": null}}},
  {"data": {"name": "d_gene"}, "transform": [{"filter": "datum.k == 'lab' && datum.t == 1"}], "mark": {"type": "text", "fontSize": 5.8, "fontStyle": "italic", "color": "#333"},
   "encoding": {"y": {"datum": 21.25, "type": "quantitative", "scale": {"domain": [0, 18], "nice": false}, "axis": null}, "text": {"field": "n", "type": "nominal"}}},
  {"data": {"name": "d_pts"}, "mark": {"type": "circle", "color": "#1f2066", "size": 14, "opacity": 1},
   "encoding": {"y": {"field": "p", "type": "quantitative", "scale": {"domain": [0, 18], "nice": false}, "axis": {"values": [0,2,4,6,8,10,12,14,16,18], "title": "−log₁₀P", "titlePadding": 10}}}},
  {"data": {"name": "d_top"}, "mark": {"type": "circle", "color": "#e8403a", "size": 12, "opacity": 1},
   "encoding": {"y": {"field": "p", "type": "quantitative", "scale": {"domain": [0, 18], "nice": false}, "axis": null}}},
  {"data": {"name": "d_top"}, "transform": [{"filter": "datum.snp == 'rs6010620'"}], "mark": {"type": "text", "align": "right", "dx": -2, "dy": -3, "fontSize": 9.5},
   "encoding": {"y": {"field": "p", "type": "quantitative", "scale": {"domain": [0, 18], "nice": false}, "axis": null}, "text": {"field": "snp", "type": "nominal"}}},
  {"data": {"name": "d_top"}, "transform": [{"filter": "datum.snp != 'rs6010620'"}], "mark": {"type": "text", "align": "left", "dx": 2, "dy": 0, "fontSize": 9.5},
   "encoding": {"y": {"field": "p", "type": "quantitative", "scale": {"domain": [0, 18], "nice": false}, "axis": null}, "text": {"field": "snp", "type": "nominal"}}},
  {"data": {"name": "d_tag"}, "transform": [{"filter": "datum.lbl == 'd'"}], "mark": {"type": "text", "fontSize": 17, "fontWeight": "bold", "align": "left"},
   "encoding": {"y": {"datum": 21.86, "type": "quantitative", "scale": {"domain": [0, 18], "nice": false}, "axis": null}, "text": {"field": "lbl", "type": "nominal"}}},
  {"data": {"name": "d_tag"}, "transform": [{"filter": "datum.lbl != 'd'"}], "mark": {"type": "text", "fontSize": 10, "align": "left"},
   "encoding": {"y": {"datum": 20.74, "type": "quantitative", "scale": {"domain": [0, 18], "nice": false}, "axis": null}, "text": {"field": "lbl", "type": "nominal"}}}
 ],
 "resolve": {"scale": {"y": "independent"}}
},
{
 "width": 254, "height": 170,
 "data": {"values": [{"v": 0}]},
 "mark": {"type": "point", "opacity": 0},
 "encoding": {"x": {"field": "v", "type": "quantitative", "axis": null}, "y": {"field": "v", "type": "quantitative", "axis": null}}
},
{
 "width": 260, "height": 170,
 "encoding": {"x": {"field": "pos", "type": "quantitative", "scale": {"domain": [117500, 118500], "nice": false, "zero": false},
   "axis": {"values": [117500,117600,117700,117800,117900,118000,118100,118200,118300,118400,118500], "format": "d", "labelAngle": -45, "title": "kb", "titleX": 274, "titleY": 12, "titleAlign": "left", "titleAngle": 0, "titleFontSize": 10, "labelFontSize": 9, "labelOverlap": false, "labelFlush": false}}},
 "layer": [
  {"data": {"name": "e_rec"}, "mark": {"type": "line", "color": "#707070", "strokeWidth": 1},
   "encoding": {"y": {"field": "rate", "type": "quantitative", "scale": {"domain": [0, 50], "range": [170, 97], "nice": false}, "axis": {"orient": "right", "values": [25, 50], "title": "cM/Mb", "titlePadding": 0}}}},
  {"data": {"name": "e_top"}, "mark": {"type": "bar", "size": 1.5, "color": "#cfcfcf"},
   "encoding": {"y": {"field": "p", "type": "quantitative", "stack": null, "scale": {"domain": [0, 18], "nice": false}, "axis": null}}},
  {"data": {"name": "e_gene"}, "transform": [{"filter": "datum.k == 'int' && datum.t == 1"}], "mark": {"type": "rule", "color": "#000", "strokeWidth": 1},
   "encoding": {"x2": {"field": "end"}, "y": {"datum": 19.33, "type": "quantitative", "scale": {"domain": [0, 18], "nice": false}, "axis": null}}},
  {"data": {"name": "e_gene"}, "transform": [{"filter": "datum.k == 'blk' && datum.t == 1"}], "mark": {"type": "rule", "color": "#000", "strokeWidth": 10, "strokeCap": "butt"},
   "encoding": {"x2": {"field": "end"}, "y": {"datum": 19.33, "type": "quantitative", "scale": {"domain": [0, 18], "nice": false}, "axis": null}}},
  {"data": {"name": "e_gene"}, "transform": [{"filter": "datum.k == 'bar' && datum.t == 1"}], "mark": {"type": "point", "shape": "M0,-1L0,1", "filled": false, "strokeWidth": 1.5, "size": 100, "color": "#000", "opacity": 1},
   "encoding": {"y": {"datum": 19.33, "type": "quantitative", "scale": {"domain": [0, 18], "nice": false}, "axis": null}}},
  {"data": {"name": "e_gene"}, "transform": [{"filter": "datum.k == 'arr'"}], "mark": {"type": "point", "shape": "M-0.4,-1L0.4,0L-0.4,1Z", "filled": true, "size": 320, "color": "#000", "opacity": 1},
   "encoding": {"y": {"datum": 19.33, "type": "quantitative", "scale": {"domain": [0, 18], "nice": false}, "axis": null}}},
  {"data": {"name": "e_gene"}, "transform": [{"filter": "datum.k == 'lab' && datum.t == 1"}], "mark": {"type": "text", "fontSize": 6.5, "fontStyle": "italic", "color": "#333"},
   "encoding": {"y": {"datum": 20.3, "type": "quantitative", "scale": {"domain": [0, 18], "nice": false}, "axis": null}, "text": {"field": "n", "type": "nominal"}}},
  {"data": {"name": "e_gene"}, "transform": [{"filter": "datum.k == 'int' && datum.t == 2"}], "mark": {"type": "rule", "color": "#000", "strokeWidth": 1},
   "encoding": {"x2": {"field": "end"}, "y": {"datum": 17.0, "type": "quantitative", "scale": {"domain": [0, 18], "nice": false}, "axis": null}}},
  {"data": {"name": "e_gene"}, "transform": [{"filter": "datum.k == 'blk' && datum.t == 2"}], "mark": {"type": "rule", "color": "#000", "strokeWidth": 10, "strokeCap": "butt"},
   "encoding": {"x2": {"field": "end"}, "y": {"datum": 17.0, "type": "quantitative", "scale": {"domain": [0, 18], "nice": false}, "axis": null}}},
  {"data": {"name": "e_gene"}, "transform": [{"filter": "datum.k == 'bar' && datum.t == 2"}], "mark": {"type": "point", "shape": "M0,-1L0,1", "filled": false, "strokeWidth": 1.5, "size": 100, "color": "#000", "opacity": 1},
   "encoding": {"y": {"datum": 17.0, "type": "quantitative", "scale": {"domain": [0, 18], "nice": false}, "axis": null}}},
  {"data": {"name": "e_gene"}, "transform": [{"filter": "datum.k == 'lab' && datum.t == 2"}], "mark": {"type": "text", "fontSize": 6.5, "fontStyle": "italic", "color": "#333"},
   "encoding": {"y": {"datum": 18.07, "type": "quantitative", "scale": {"domain": [0, 18], "nice": false}, "axis": null}, "text": {"field": "n", "type": "nominal"}}},
  {"data": {"name": "e_pts"}, "mark": {"type": "circle", "color": "#1f2066", "size": 14, "opacity": 1},
   "encoding": {"y": {"field": "p", "type": "quantitative", "scale": {"domain": [0, 18], "nice": false}, "axis": {"values": [0,2,4,6,8,10,12,14,16,18], "title": "−log₁₀P", "titlePadding": 10}}}},
  {"data": {"name": "e_top"}, "mark": {"type": "circle", "color": "#e8403a", "size": 12, "opacity": 1},
   "encoding": {"y": {"field": "p", "type": "quantitative", "scale": {"domain": [0, 18], "nice": false}, "axis": null}}},
  {"data": {"name": "e_top"}, "mark": {"type": "text", "align": "right", "dx": -2, "dy": 0, "fontSize": 9.5},
   "encoding": {"y": {"field": "p", "type": "quantitative", "scale": {"domain": [0, 18], "nice": false}, "axis": null}, "text": {"field": "snp", "type": "nominal"}}},
  {"data": {"name": "e_tag"}, "transform": [{"filter": "datum.lbl == 'e'"}], "mark": {"type": "text", "fontSize": 17, "fontWeight": "bold", "align": "left"},
   "encoding": {"y": {"datum": 21.63, "type": "quantitative", "scale": {"domain": [0, 18], "nice": false}, "axis": null}, "text": {"field": "lbl", "type": "nominal"}}},
  {"data": {"name": "e_tag"}, "transform": [{"filter": "datum.lbl != 'e'"}], "mark": {"type": "text", "fontSize": 10, "align": "left"},
   "encoding": {"y": {"datum": 21.36, "type": "quantitative", "scale": {"domain": [0, 18], "nice": false}, "axis": null}, "text": {"field": "lbl", "type": "nominal"}}}
 ],
 "resolve": {"scale": {"y": "independent"}}
}
]
}
